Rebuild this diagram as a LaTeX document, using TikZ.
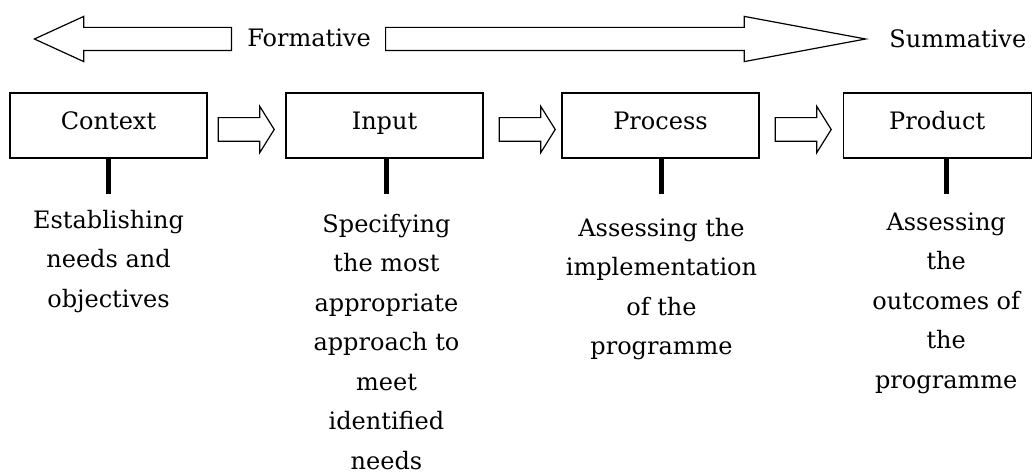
\documentclass[tikz,border=0pt]{standalone}
\usepackage{fontspec}
\setmainfont{DejaVu Serif}
\usetikzlibrary{positioning,shapes.arrows}

\begin{document}
\begin{tikzpicture}[x=1pt,y=-1pt,
    every node/.style={font=\fontsize{24}{39.5}\selectfont},
    stage/.style={draw, line width=1.2pt, minimum width=197pt, minimum height=65pt, inner sep=0pt, text height=18pt, text depth=9pt},
    fat/.style={single arrow, draw, line width=1.2pt, inner xsep=0pt, inner ysep=11pt, single arrow head extend=11pt, single arrow head indent=0pt},
    small/.style={fat, minimum height=56pt, inner ysep=11.25pt, single arrow head extend=11.25pt, single arrow tip angle=116},
    note/.style={align=center, inner xsep=0pt, inner ysep=16pt},
    stem/.style={line width=5pt}]
  \useasboundingbox (0,0) rectangle (1035,473);
  % formative / summative
  \node[fat, minimum height=197pt, single arrow tip angle=49.2, shape border rotate=180, anchor=tail] (fl) at (232,39) {};
  \node[fat, minimum height=480pt, single arrow tip angle=21.1, anchor=tail] (fr) at (385,39) {};
  \node (form) at (309,38) {Formative};
  \node (summ) [right=17pt of fr.tip] {Summative};
  % stages
  \node[stage] (ctx) at (108.5,125.5) {Context};
  \node[stage] (inp) [right=77.8pt of ctx] {Input};
  \node[stage] (proc) [right=77.8pt of inp] {Process};
  \node[stage, minimum width=188pt] (prod) [right=83pt of proc] {Product};
  \node[small] (a1) [right=10pt of ctx, yshift=-4pt] {};
  \node[small] (a2) [right=15pt of inp, yshift=-4pt] {};
  \node[small] (a3) [right=15pt of proc, yshift=-4pt] {};
  % descriptions
  \node[note] (ctxtxt) [below=35pt of ctx] {Establishing\\needs and\\objectives};
  \node[note, inner ysep=20pt] (inptxt) [below=35pt of inp, xshift=2pt] {Specifying\\the most\\appropriate\\approach to\\meet\\identified\\needs};
  \node[note, inner ysep=24pt] (proctxt) [below=35pt of proc, xshift=1pt] {Assessing the\\implementation\\of the\\programme};
  \node[note, inner ysep=19pt] (prodtxt) [below=35pt of prod, xshift=9pt] {Assessing\\the\\outcomes of\\the\\programme};
  \draw[stem] (ctxtxt.north) -- (ctxtxt.north |- ctx.south);
  \draw[stem] (inptxt.north) -- (inptxt.north |- inp.south);
  \draw[stem] (proctxt.north) -- (proctxt.north |- proc.south);
  \draw[stem] (prodtxt.north) -- (prodtxt.north |- prod.south);
\end{tikzpicture}
\end{document}
